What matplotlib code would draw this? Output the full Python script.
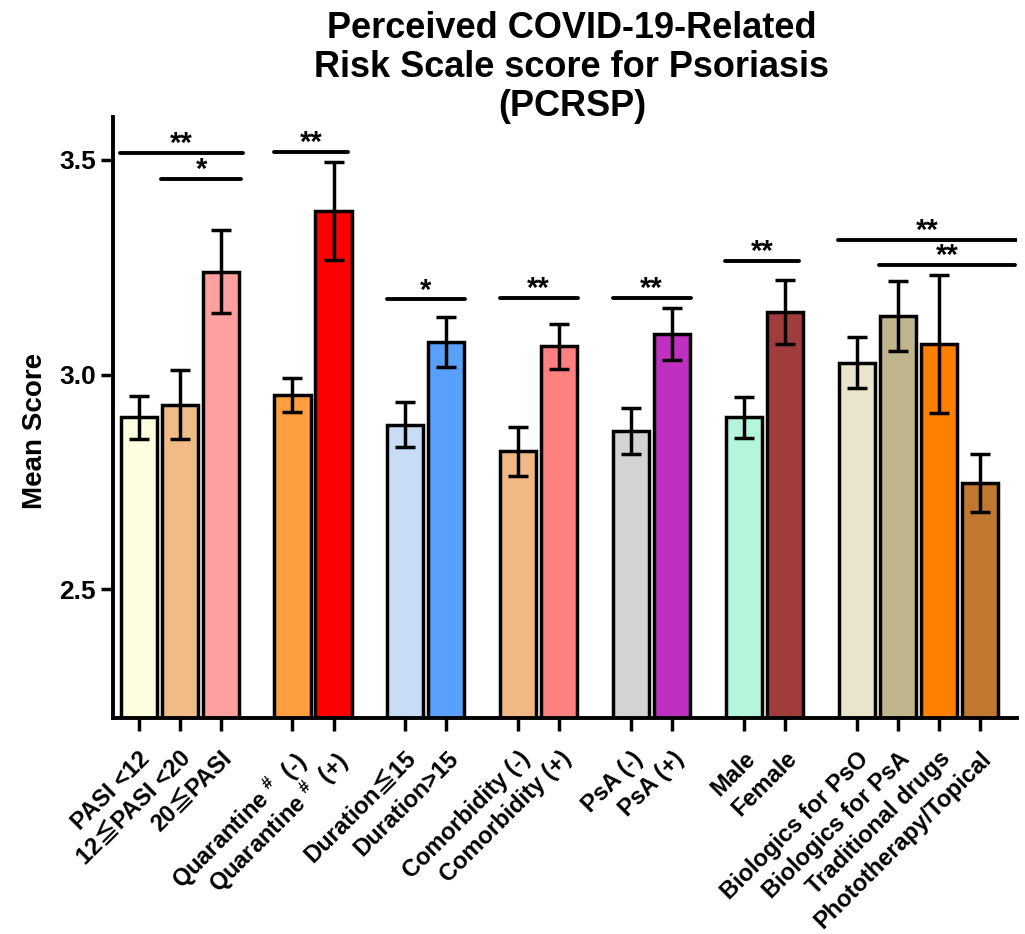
import numpy as np
import matplotlib
matplotlib.use("Agg")
from matplotlib import pyplot as plt

plt.rcParams["font.family"] = ["Liberation Sans", "Noto Sans CJK SC", "DejaVu Sans"]
plt.rcParams["font.weight"] = "bold"
plt.rcParams["mathtext.fontset"] = "custom"
plt.rcParams["mathtext.rm"] = "Liberation Sans:bold"
plt.rcParams["mathtext.bf"] = "Liberation Sans:bold"
plt.rcParams["mathtext.default"] = "rm"

# data
labels = [
    "PASI <12", "12≦PASI <20", "20≦PASI",
    r"Quarantine $^{\#}$  (-)", r"Quarantine $^{\#}$  (+)",
    "Duration≦15", "Duration>15",
    "Comorbidity (-)", "Comorbidity (+)",
    "PsA (-)", "PsA (+)",
    "Male", "Female",
    "Biologics for PsO", "Biologics for PsA", "Traditional drugs",
    "Phototherapy/Topical",
]
group_sizes = [3, 2, 2, 2, 2, 2, 4]
means = [2.90, 2.93, 3.24, 2.953, 3.381, 2.883, 3.076, 2.821, 3.066,
         2.869, 3.094, 2.900, 3.146, 3.028, 3.137, 3.071, 2.747]
sems = [0.050, 0.080, 0.096, 0.040, 0.114, 0.052, 0.058, 0.057, 0.052,
        0.053, 0.060, 0.047, 0.074, 0.060, 0.082, 0.160, 0.068]
colors = ["#FFFDE0", "#F0BB85", "#FFA0A0", "#FF9E3E", "#FF0000",
          "#C8DCF5", "#58A0FA", "#F0B885", "#FF8080", "#D3D3D3",
          "#C030C0", "#B4F5DC", "#A03C3C", "#EBE4CC", "#C0B58C",
          "#FF8000", "#C07830"]

# significance brackets: first bar, last bar, height, stars, extra right reach
brackets = [
    (0, 2, 3.516, "**", 0.1),
    (1, 2, 3.456, "*", 0.05),
    (3, 4, 3.518, "**", -0.1),
    (5, 6, 3.175, "*", 0.0),
    (7, 8, 3.179, "**", 0.0),
    (9, 10, 3.179, "**", 0.0),
    (11, 12, 3.265, "**", -0.1),
    (13, 16, 3.313, "**", 0.45),
    (14, 16, 3.255, "**", 0.4),
]

# bar positions: 1 unit within a group, extra gap between groups
pos = []
x = 0.0
for size in group_sizes:
    for k in range(size):
        pos.append(x)
        x += 1
    x += 0.75
pos = np.array(pos)

fig = plt.figure(figsize=(10.25, 9.34), dpi=100)
ax = fig.add_axes([0.110, 0.2313, 0.882, 0.6434])

ax.bar(pos, means, width=0.88, color=colors, edgecolor="black",
       linewidth=2.5, zorder=2)
ax.errorbar(pos, means, yerr=sems, fmt="none", ecolor="black",
            elinewidth=2.5, capsize=7, capthick=2.5, zorder=3)

for i, j, y, star, extra in brackets:
    x0 = pos[i] - 0.45
    x1 = pos[j] + 0.45 + extra
    ax.plot([x0, x1], [y, y], color="black", lw=2.8, solid_capstyle="round",
            zorder=3)
    ax.text((x0 + x1) / 2, y + 0.002, star, ha="center", va="baseline",
            fontsize=21, fontweight="bold")

ax.set_xlim(-0.63, 21.4)
ax.set_ylim(2.2, 3.6)
ax.set_yticks([2.5, 3.0, 3.5])
ax.set_yticklabels(["2.5", "3.0", "3.5"])
ax.set_xticks(pos)
ax.set_xticklabels(labels, rotation=45, ha="right", rotation_mode="anchor",
                   fontsize=17)
ax.tick_params(axis="y", labelsize=19, width=2.5, length=9, pad=3)
ax.tick_params(axis="x", width=2.5, length=9, pad=12)
ax.set_ylabel("Mean Score", fontsize=20, fontweight="bold")
ax.yaxis.set_label_coords(-0.072, 0.478)

for side in ["top", "right"]:
    ax.spines[side].set_visible(False)
for side in ["left", "bottom"]:
    ax.spines[side].set_linewidth(2.8)

fig.text(572 / 1025, 1 - 11 / 934,
         "Perceived COVID-19-Related\nRisk Scale score for Psoriasis\n(PCRSP)",
         ha="center", va="top", fontsize=26, fontweight="bold",
         linespacing=1.14)

fig.savefig("out.png", dpi=100)
